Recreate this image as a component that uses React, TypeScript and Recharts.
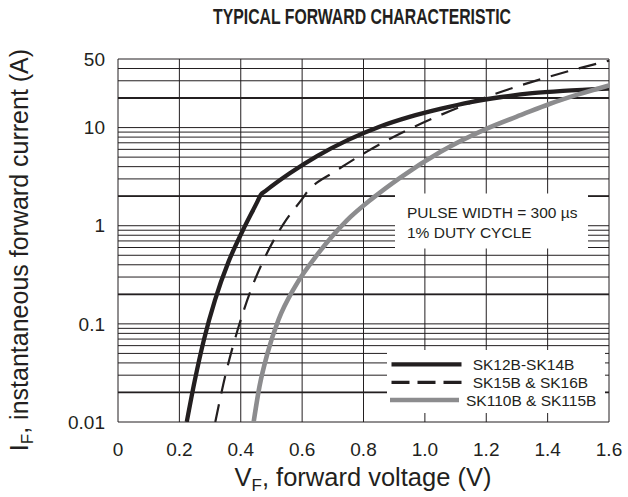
import React from 'react';
import {
  LineChart,
  Line,
  XAxis,
  YAxis,
  CartesianGrid,
  ReferenceLine,
  Legend
} from 'recharts';

// forward voltage grid (V)
const vTicks = [0, 0.2, 0.4, 0.6, 0.8, 1.0, 1.2, 1.4, 1.6];

// current grid (A), log decades
const iGrid = [
  0.01, 0.02, 0.03, 0.04, 0.05, 0.06, 0.07, 0.08, 0.09,
  0.1, 0.2, 0.3, 0.4, 0.5, 0.6, 0.7, 0.8, 0.9,
  1, 2, 3, 4, 5, 6, 7, 8, 9,
  10, 20, 30, 40, 50
];
const iLabels = [0.01, 0.1, 1, 10, 50];
const iHeavy = [0.02, 0.2, 2, 20];

// SK12B-SK14B
const sk12V = [0.224, 0.25, 0.28, 0.316, 0.36, 0.407, 0.455, 0.465, 0.48, 0.561, 0.65, 0.75, 0.85, 0.95, 1.05, 1.15, 1.25, 1.35, 1.45, 1.6];
const sk12I = [0.01, 0.0263, 0.069, 0.175, 0.428, 0.9, 1.78, 2.06, 2.25, 3.44, 5.15, 7.5, 10.15, 12.85, 15.5, 18.2, 20.5, 22.4, 23.7, 25.0];

// SK15B & SK16B
const sk15V = [0.317, 0.35, 0.39, 0.437, 0.48, 0.54, 0.605, 0.616, 0.63, 0.702, 0.811, 0.92, 1.05, 1.213, 1.408, 1.6];
const sk15I = [0.01, 0.03, 0.087, 0.238, 0.486, 1.05, 1.97, 2.2, 2.45, 3.49, 5.69, 8.71, 13.4, 21.2, 33.2, 48.2];

// SK110B & SK115B
const sk110V = [0.442, 0.461, 0.487, 0.523, 0.577, 0.653, 0.746, 0.83, 0.92, 1.05, 1.202, 1.32, 1.408, 1.5, 1.6];
const sk110I = [0.01, 0.023, 0.05, 0.11, 0.24, 0.525, 1.135, 1.91, 3.1, 5.65, 9.77, 13.7, 17.5, 21.8, 26.9];

const toPoints = (v: number[], i: number[]) => v.map((x, k) => ({ v: x, i: i[k] }));

const FONT = '"Liberation Sans", Arial, Helvetica, sans-serif';
const INK = '#231f20';

const series = [
  { name: 'SK12B-SK14B', data: toPoints(sk12V, sk12I), color: INK, width: 4.3, dash: undefined as string | undefined },
  { name: 'SK15B & SK16B', data: toPoints(sk15V, sk15I), color: INK, width: 2.2, dash: '18 11' },
  { name: 'SK110B & SK115B', data: toPoints(sk110V, sk110I), color: '#8c8c8e', width: 4.6, dash: undefined }
];

const legendRows = [
  { y: 14.3, x1: 4.5, x2: 74.5, tx: 85.7, dash: undefined as string | undefined },
  { y: 32.3, x1: 4.5, x2: 74.5, tx: 85.7, dash: '18 8' },
  { y: 50, x1: 3, x2: 72, tx: 79, dash: undefined }
];

const renderLegend = () => (
  <svg width={218} height={63} style={{ display: 'block' }}>
    {series.map((s, k) => {
      const r = legendRows[k];
      return (
        <g key={s.name}>
          <line x1={r.x1} x2={r.x2} y1={r.y} y2={r.y} stroke={s.color} strokeWidth={k === 1 ? 3.2 : s.width} strokeDasharray={r.dash} />
          <text x={r.tx} y={r.y + 5.6} fontSize={15.5} fontFamily={FONT} fill={INK}>{s.name}</text>
        </g>
      );
    })}
  </svg>
);

const fmtV = (v: number) => (v === 0 ? '0' : v.toFixed(1));
const fmtI = (v: number) => (iLabels.includes(v) ? String(v) : '');

export default function App() {
  return (
    <div style={{ position: 'absolute', left: 0, top: 0, width: 628, height: 497, background: '#fff' }}>
      <LineChart width={628} height={497} margin={{ top: 59, right: 19, left: 0, bottom: 0 }}>
        <CartesianGrid stroke={INK} strokeWidth={1} strokeOpacity={1} />
        <XAxis
          type="number"
          dataKey="v"
          domain={[0, 1.6]}
          ticks={vTicks}
          interval={0}
          tickFormatter={fmtV}
          axisLine={false}
          tickLine={false}
          tickSize={0}
          tickMargin={21}
          height={75}
          tick={{ fontSize: 19, fill: INK, fontFamily: FONT }}
        />
        <YAxis
          type="number"
          scale="log"
          domain={[0.01, 50]}
          allowDataOverflow
          ticks={iGrid}
          interval={0}
          tickFormatter={fmtI}
          axisLine={false}
          tickLine={false}
          tickSize={0}
          tickMargin={13}
          width={118}
          tick={{ fontSize: 19, fill: INK, fontFamily: FONT }}
        />
        {iHeavy.map((y) => (
          <ReferenceLine key={y} y={y} stroke={INK} strokeWidth={y === 20 ? 2 : 1.7} />
        ))}
        {series.map((s) => (
          <Line
            key={s.name}
            name={s.name}
            data={s.data}
            dataKey="i"
            type="monotone"
            stroke={s.color}
            strokeWidth={s.width}
            strokeDasharray={s.dash}
            dot={false}
            activeDot={false}
            isAnimationActive={false}
          />
        ))}
        <Legend
          layout="horizontal"
          verticalAlign="middle"
          align="center"
          content={renderLegend}
          wrapperStyle={{ left: 387, top: 350, width: 218, height: 63, background: '#fff' }}
        />
      </LineChart>
      <svg width={628} height={497} style={{ position: 'absolute', left: 0, top: 0, pointerEvents: 'none' }}>
        <text x={362} y={24} textAnchor="middle" fontSize={22} fontWeight="bold" fontFamily={'"Liberation Sans Narrow", "Arial Narrow", ' + FONT} fill={INK} textLength={298} lengthAdjust="spacingAndGlyphs">
          TYPICAL FORWARD CHARACTERISTIC
        </text>
        <rect x={395} y={193.5} width={193} height={55} fill="#fff" />
        <text x={407} y={218.3} fontSize={15.5} fontFamily={FONT} fill={INK}>PULSE WIDTH = 300 µs</text>
        <text x={407} y={238.3} fontSize={15.5} fontFamily={FONT} fill={INK}>1% DUTY CYCLE</text>
        <text x={363} y={486} textAnchor="middle" fontSize={25.5} fontFamily={FONT} fill={INK}>
          V<tspan fontSize={17} dy={5}>F</tspan><tspan dy={-5}>, forward voltage (V)</tspan>
        </text>
        <text transform="translate(28, 250) rotate(-90)" textAnchor="middle" fontSize={25} fontFamily={FONT} fill={INK}>
          I<tspan fontSize={17} dy={5}>F</tspan><tspan dy={-5}>, instantaneous forward current (A)</tspan>
        </text>
      </svg>
    </div>
  );
}
